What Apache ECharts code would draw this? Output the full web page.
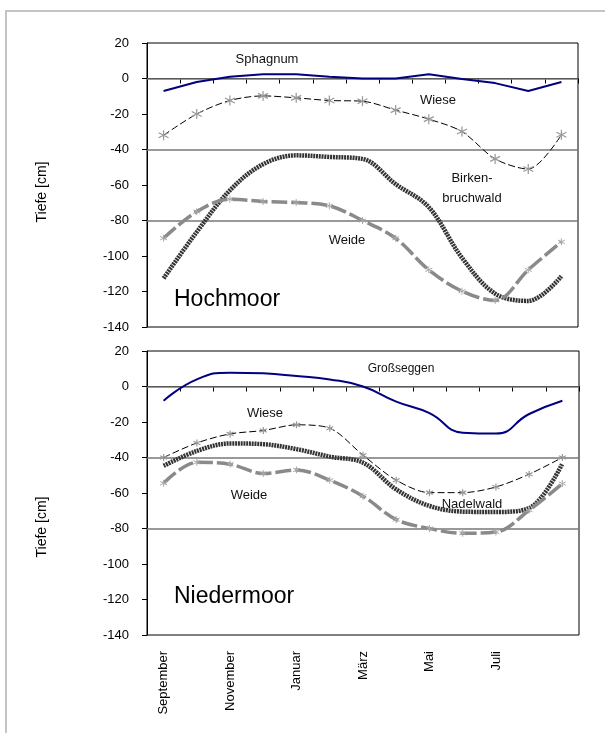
<!DOCTYPE html>
<html>
<head>
<meta charset="utf-8">
<script src="https://cdn.jsdelivr.net/npm/echarts@6/dist/echarts.min.js"></script>
<style>
  html, body { margin: 0; padding: 0; background: #fff; }
  #chart { width: 605px; height: 733px; }
</style>
</head>
<body>
<div id="chart"></div>
<script>
// months, one category per month, Sept to Sept
const months = ['September', 'Oktober', 'November', 'Dezember', 'Januar', 'Februar',
  'März', 'April', 'Mai', 'Juni', 'Juli', 'August', 'September'];
const yTicks = { min: -140, max: 20, interval: 20 };
const refLines = [0, -40, -80];

// Hochmoor (cm)
const hochSphagnum = [-7, -2, 1, 2.4, 2.4, 1, 0, 0, 2.4, -0.3, -2.6, -7, -2];
const hochWiese = [-32, -20, -12.4, -9.8, -10.9, -12.4, -12.8, -17.8, -22.9, -29.9, -45.3, -51, -31.7];
const hochWeide = [-90, -75, -68, -69.3, -69.9, -71.7, -80, -90, -107.8, -119.8, -125, -107.8, -92];
const hochBirken = [-112.6, -86.5, -63, -48.3, -43.3, -44.2, -45.3, -59.5, -72.5, -101, -121.2, -125.3, -111.4];

// Niedermoor (cm)
const niedGross = [-8, 4, 7.8, 7.4, 5.9, 4, 0, -8.5, -15, -26, -26.5, -15.5, -8];
const niedWiese = [-40, -31.8, -26.7, -24.8, -21.6, -23.5, -38.7, -52.8, -59.8, -59.8, -56.6, -49.4, -40];
const niedWeide = [-54.5, -42.7, -43.8, -49, -47, -52.8, -61.8, -75, -80, -82.7, -82, -69.7, -54.7];
const niedNadel = [-44.7, -36.3, -32.1, -32.5, -35.3, -39.5, -42.9, -58, -67.3, -70.5, -70.7, -68.5, -43.4];

const font = "'Liberation Sans', Arial, sans-serif";
const star = 'path://M5,0L5,10M0.67,2.5L9.33,7.5M0.67,7.5L9.33,2.5';

var chart = echarts.init(document.getElementById('chart'));

function xAxisFor(gridIndex, showLabels) {
  return {
    type: 'category',
    gridIndex: gridIndex,
    data: months,
    boundaryGap: true,
    axisLine: { lineStyle: { color: '#000', width: 1 } },
    axisTick: { show: true, length: 5, interval: 0, lineStyle: { color: '#000' } },
    axisLabel: {
      show: showLabels,
      rotate: 90,
      margin: 16,
      interval: function (i) { return i % 2 === 0 && i < 12; },
      color: '#000',
      fontSize: 13,
      fontFamily: font
    },
    splitLine: { show: false }
  };
}

function yAxisFor(gridIndex) {
  return {
    type: 'value',
    gridIndex: gridIndex,
    min: yTicks.min,
    max: yTicks.max,
    interval: yTicks.interval,
    axisLine: { show: true, lineStyle: { color: '#000', width: 1 } },
    axisTick: { show: true, length: 5, lineStyle: { color: '#000' } },
    axisLabel: { color: '#000', fontSize: 13, margin: 18, fontFamily: font },
    splitLine: { show: false }
  };
}

function blueLine(idx, data, smooth) {
  return {
    type: 'line', xAxisIndex: idx, yAxisIndex: idx, data: data,
    smooth: smooth, symbol: 'none', z: 6,
    lineStyle: { color: '#000080', width: 2 },
    markLine: {
      silent: true, symbol: 'none', z: 1,
      label: { show: false },
      lineStyle: { color: '#777', width: 1.5, type: 'solid' },
      data: refLines.map(function (v) { return { yAxis: v }; })
    }
  };
}

function wieseLine(idx, data, size) {
  return {
    type: 'line', xAxisIndex: idx, yAxisIndex: idx, data: data,
    smooth: 0.3, symbol: star, symbolSize: size, z: 7,
    lineStyle: { color: '#000', width: 1, type: [7, 3] },
    itemStyle: { color: '#999', borderColor: '#999', borderWidth: 1.2 }
  };
}

function weideLine(idx, data) {
  return {
    type: 'line', xAxisIndex: idx, yAxisIndex: idx, data: data,
    smooth: 0.35, symbol: star, symbolSize: 7, z: 6,
    lineStyle: { color: '#8a8a8a', width: 3.5, type: [16, 4] },
    itemStyle: { color: '#aaa', borderColor: '#aaa', borderWidth: 1 }
  };
}

function waldLine(idx, data) {
  return {
    type: 'line', xAxisIndex: idx, yAxisIndex: idx, data: data,
    smooth: 0.35, symbol: 'none', z: 5,
    lineStyle: { color: '#333', width: 4.5, type: [2, 0.8] }
  };
}

function note(text, x, y, size) {
  return {
    type: 'text', x: x, y: y, z: 20,
    style: {
      text: text, fill: '#111', fontSize: size || 13, fontFamily: font,
      align: 'center', verticalAlign: 'middle'
    }
  };
}

function bigNote(text, x, y) {
  return {
    type: 'text', x: x, y: y, z: 20,
    style: {
      text: text, fill: '#000', fontSize: 23, fontFamily: font,
      align: 'left', verticalAlign: 'middle'
    }
  };
}

function axisTitle(y) {
  return {
    type: 'text', x: 42, y: y, rotation: Math.PI / 2, z: 20,
    style: {
      text: 'Tiefe [cm]', fill: '#000', fontSize: 14, fontFamily: font,
      align: 'center', verticalAlign: 'middle'
    }
  };
}

var option = {
  backgroundColor: '#fff',
  animation: false,
  grid: [
    { left: 147, top: 43, width: 431, height: 284, show: true, borderColor: '#000', borderWidth: 1, backgroundColor: 'transparent' },
    { left: 147, top: 351, width: 432, height: 284, show: true, borderColor: '#000', borderWidth: 1, backgroundColor: 'transparent' }
  ],
  xAxis: [xAxisFor(0, false), xAxisFor(1, true)],
  yAxis: [yAxisFor(0), yAxisFor(1)],
  series: [
    blueLine(0, hochSphagnum, false),
    waldLine(0, hochBirken),
    weideLine(0, hochWeide),
    wieseLine(0, hochWiese, 10),
    blueLine(1, niedGross, 0.5),
    waldLine(1, niedNadel),
    weideLine(1, niedWeide),
    wieseLine(1, niedWiese, 7)
  ],
  graphic: [
    { type: 'polyline', z: 0, shape: { points: [[6, 733], [6, 11], [605, 11]] },
      style: { stroke: '#c4c4c4', lineWidth: 2, fill: null } },
    axisTitle(192),
    axisTitle(527),
    note('Sphagnum', 267, 59),
    note('Wiese', 438, 100),
    note('Birken-', 472, 178),
    note('bruchwald', 472, 198),
    note('Weide', 347, 240),
    bigNote('Hochmoor', 174, 300),
    note('Großseggen', 401, 369, 12),
    note('Wiese', 265, 413),
    note('Weide', 249, 495),
    note('Nadelwald', 472, 504),
    bigNote('Niedermoor', 174, 597)
  ]
};

chart.setOption(option);
</script>
</body>
</html>
